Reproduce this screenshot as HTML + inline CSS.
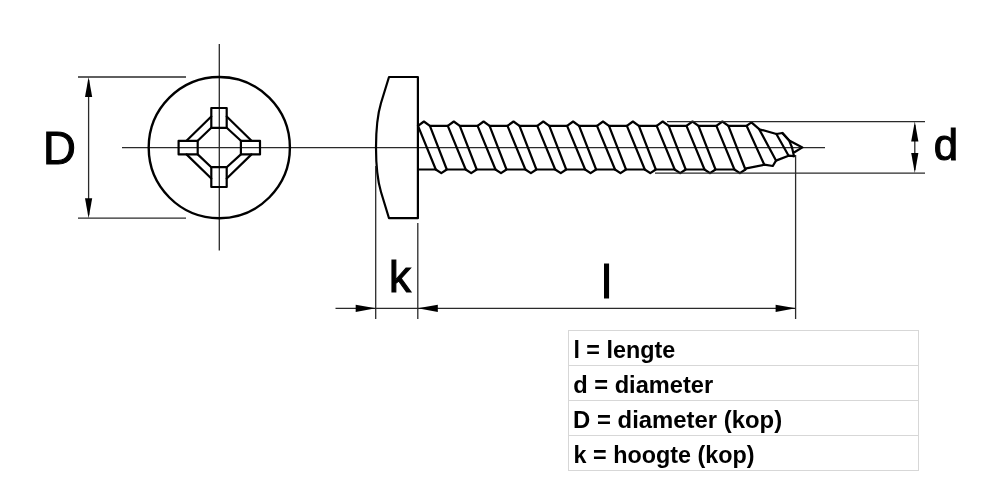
<!DOCTYPE html>
<html><head><meta charset="utf-8"><style>
html,body{margin:0;padding:0;background:#fff;width:1000px;height:500px;overflow:hidden}
svg{position:absolute;left:0;top:0;will-change:transform}
.o{fill:none;stroke:#000;stroke-width:2.2;stroke-linejoin:round;stroke-linecap:round}
.t{fill:none;stroke:#2a2a2a;stroke-width:1.3}
.ah{fill:#000;stroke:none}
.big{font-family:"Liberation Sans",sans-serif;font-size:45.5px;fill:#000;stroke:#000;stroke-width:1.1}
.tt text{font-family:"Liberation Sans",sans-serif;font-weight:bold;font-size:24.5px;fill:#000}
</style></head><body>
<svg width="1000" height="500" viewBox="0 0 1000 500">
<!-- center lines -->
<line class="t" x1="122" y1="147.7" x2="825" y2="147.7"/>
<line class="t" x1="219.3" y1="44" x2="219.3" y2="250.5"/>
<!-- head circle -->
<circle class="o" cx="219.3" cy="147.6" r="70.6" style="stroke-width:2.4"/>
<!-- recess -->
<rect class="o" x="211.3" y="108" width="15.4" height="19.8"/>
<rect class="o" x="211.3" y="167.2" width="15.4" height="19.8"/>
<rect class="o" x="178.6" y="140.8" width="19.1" height="13.6"/>
<rect class="o" x="240.9" y="140.8" width="19.1" height="13.6"/>
<polyline class="o" points="197.7,140.8 211.3,127.8"/>
<polyline class="o" points="226.7,127.8 240.9,140.8"/>
<polyline class="o" points="240.9,154.4 226.7,167.2"/>
<polyline class="o" points="211.3,167.2 197.7,154.4"/>
<polyline class="o" points="186.5,140.8 211.3,116.5"/>
<polyline class="o" points="226.7,116.5 251.5,140.8"/>
<polyline class="o" points="251.5,154.4 226.7,178.5"/>
<polyline class="o" points="211.3,178.5 186.5,154.4"/>
<!-- D dimension -->
<line class="t" x1="78" y1="77" x2="186" y2="77"/>
<line class="t" x1="78" y1="218.2" x2="186" y2="218.2"/>
<line class="t" x1="88.6" y1="80" x2="88.6" y2="215"/>
<polygon class="ah" points="88.6,77.0 92.2,97.0 85.0,97.0"/>
<polygon class="ah" points="88.6,218.2 85.0,198.2 92.2,198.2"/>

<text class="big" x="43" y="164">D</text>
<!-- side head -->
<path class="o" d="M389,77 L417.9,77 L417.9,218.2 L389,218.2 L381,192 C378,182 376,167 376,147.5 C376,128 378,113 381,103 Z"/>
<!-- threads -->
<polyline class="o" points="782.4,133 789.2,140.6 792,147.5 794,156.2"/>
<polyline class="o" points="418.0,125.8 423.9,121.5 429.9,125.8 447.8,125.8 453.8,121.5 459.8,125.8 477.6,125.8 483.6,121.5 489.6,125.8 507.5,125.8 513.5,121.5 519.5,125.8 537.3,125.8 543.3,121.5 549.3,125.8 567.1,125.8 573.1,121.5 579.1,125.8 597.0,125.8 603.0,121.5 609.0,125.8 626.9,125.8 632.9,121.5 638.9,125.8 656.7,125.8 662.7,121.5 668.7,125.8 686.5,125.8 692.5,121.5 698.5,125.8 716.4,125.8 722.4,121.5 728.4,125.8 746.6,125.8 751.4,122.4 759.2,129.2 776.4,134.0 782.4,133.0 789.2,140.6 802.4,147.4 794.4,152.2"/>
<polyline class="o" points="418.0,169.5 435.8,169.5 441.3,173.1 446.8,169.5 465.7,169.5 471.2,173.1 476.7,169.5 495.5,169.5 501.0,173.1 506.5,169.5 525.4,169.5 530.9,173.1 536.4,169.5 555.2,169.5 560.8,173.1 566.2,169.5 585.1,169.5 590.6,173.1 596.1,169.5 615.0,169.5 620.5,173.1 626.0,169.5 644.8,169.5 650.3,173.1 655.8,169.5 674.7,169.5 680.2,173.1 685.7,169.5 704.5,169.5 710.0,173.1 715.5,169.5 734.4,169.5 739.9,173.1 745.4,169.5 746.3,168.3 764.3,164.7 772.8,166.0 776.0,160.6 788.6,155.7 794.0,156.2"/>
<line class="o" x1="418.0" y1="125.8" x2="435.8" y2="169.5"/>
<line class="o" x1="429.9" y1="125.8" x2="446.8" y2="169.5"/>
<line class="o" x1="447.8" y1="125.8" x2="465.7" y2="169.5"/>
<line class="o" x1="459.8" y1="125.8" x2="476.7" y2="169.5"/>
<line class="o" x1="477.6" y1="125.8" x2="495.5" y2="169.5"/>
<line class="o" x1="489.6" y1="125.8" x2="506.5" y2="169.5"/>
<line class="o" x1="507.5" y1="125.8" x2="525.4" y2="169.5"/>
<line class="o" x1="519.5" y1="125.8" x2="536.4" y2="169.5"/>
<line class="o" x1="537.3" y1="125.8" x2="555.2" y2="169.5"/>
<line class="o" x1="549.3" y1="125.8" x2="566.2" y2="169.5"/>
<line class="o" x1="567.1" y1="125.8" x2="585.1" y2="169.5"/>
<line class="o" x1="579.1" y1="125.8" x2="596.1" y2="169.5"/>
<line class="o" x1="597.0" y1="125.8" x2="615.0" y2="169.5"/>
<line class="o" x1="609.0" y1="125.8" x2="626.0" y2="169.5"/>
<line class="o" x1="626.9" y1="125.8" x2="644.8" y2="169.5"/>
<line class="o" x1="638.9" y1="125.8" x2="655.8" y2="169.5"/>
<line class="o" x1="656.7" y1="125.8" x2="674.7" y2="169.5"/>
<line class="o" x1="668.7" y1="125.8" x2="685.7" y2="169.5"/>
<line class="o" x1="686.5" y1="125.8" x2="704.5" y2="169.5"/>
<line class="o" x1="698.5" y1="125.8" x2="715.5" y2="169.5"/>
<line class="o" x1="716.4" y1="125.8" x2="734.4" y2="169.5"/>
<line class="o" x1="728.4" y1="125.8" x2="745.4" y2="169.5"/>
<line class="o" x1="746.6" y1="125.8" x2="764.3" y2="164.7"/>
<line class="o" x1="759.2" y1="129.2" x2="776.0" y2="160.6"/>
<line class="o" x1="776.4" y1="134.0" x2="788.6" y2="155.7"/>

<!-- d dimension -->
<line class="t" x1="667" y1="121.6" x2="925" y2="121.6"/>
<line class="t" x1="655" y1="173.1" x2="925" y2="173.1"/>
<line class="t" x1="914.8" y1="125" x2="914.8" y2="170"/>
<polygon class="ah" points="914.8,121.6 918.4,141.6 911.2,141.6"/>
<polygon class="ah" points="914.8,173.1 911.2,153.1 918.4,153.1"/>

<text class="big" x="933.8" y="159.5" style="font-size:43.8px">d</text>
<!-- k / l dimensions -->
<line class="t" x1="375.7" y1="166" x2="375.7" y2="319"/>
<line class="t" x1="417.8" y1="223" x2="417.8" y2="319"/>
<line class="t" x1="795.6" y1="155" x2="795.6" y2="319"/>
<line class="t" x1="335.5" y1="308.3" x2="795" y2="308.3"/>
<polygon class="ah" points="375.7,308.3 355.7,311.9 355.7,304.7"/>
<polygon class="ah" points="417.8,308.3 437.8,304.7 437.8,311.9"/>
<polygon class="ah" points="795.6,308.3 775.6,311.9 775.6,304.7"/>

<text class="big" x="389" y="292" style="font-size:44px">k</text>
<text class="big" x="601.5" y="297.7" style="font-size:45.3px">l</text>
<!-- table -->
<g fill="#d7d7d7">
<rect x="568" y="330" width="351" height="1"/>
<rect x="568" y="365" width="351" height="1"/>
<rect x="568" y="400" width="351" height="1"/>
<rect x="568" y="435" width="351" height="1"/>
<rect x="568" y="470" width="351" height="1"/>
<rect x="568" y="330" width="1" height="141"/>
<rect x="918" y="330" width="1" height="141"/>
</g>
<g class="tt">
<text transform="translate(573.4,357.8) scale(0.953,1)">l = lengte</text>
<text transform="translate(573.3,392.8) scale(0.965,1)">d = diameter</text>
<text transform="translate(573.1,427.6) scale(0.975,1)">D = diameter (kop)</text>
<text transform="translate(573.6,462.9) scale(0.953,1)">k = hoogte (kop)</text>
</g>
</svg>

</body></html>
